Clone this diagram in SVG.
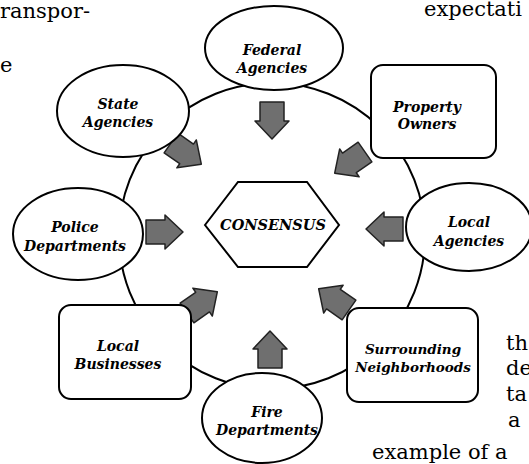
<svg xmlns="http://www.w3.org/2000/svg" xmlns:xlink="http://www.w3.org/1999/xlink" width="529" height="464" viewBox="0 0 529 464">
<style>
.node{fill:#fff;stroke:#000;stroke-width:2}
.lbl{font-family:"DejaVu Serif","Liberation Serif",serif;font-weight:bold;font-style:italic;font-size:14px;text-anchor:middle;fill:#000}
.body{font-family:"DejaVu Serif","Liberation Serif",serif;font-size:21px;fill:#000}
.arr{fill:#6f6f6f;stroke:#222;stroke-width:1.5;stroke-linejoin:round}
.ring{fill:none;stroke:#000;stroke-width:2}
</style>
<defs>
<path id="arrow" d="M0,-12 H19 V-17 L37,0 L19,17 V12 H0 Z"/>
</defs>
<rect width="529" height="464" fill="#fff"/>
<g id="page-text">
<text class="body" x="0" y="18">ranspor-</text>
<text class="body" x="0" y="72">e</text>
<text class="body" x="424" y="16">expectati</text>
<text class="body" x="506" y="350">th</text>
<text class="body" x="506" y="375">de</text>
<text class="body" x="506" y="401">ta</text>
<text class="body" x="508" y="427">a</text>
<text class="body" x="372" y="459">example of a</text>
</g>
<g id="connectors">
<circle class="ring" cx="272" cy="236" r="153"/>
<use xlink:href="#arrow" class="arr" transform="translate(272,102) rotate(90)"/>
<use xlink:href="#arrow" class="arr" transform="translate(270,368) rotate(-90)"/>
<use xlink:href="#arrow" class="arr" transform="translate(146,232)"/>
<use xlink:href="#arrow" class="arr" transform="translate(403,229) rotate(180)"/>
<use xlink:href="#arrow" class="arr" transform="translate(171,143) rotate(35)"/>
<use xlink:href="#arrow" class="arr" transform="translate(365,152) rotate(145)"/>
<use xlink:href="#arrow" class="arr" transform="translate(187,313) rotate(-35)"/>
<use xlink:href="#arrow" class="arr" transform="translate(349,310) rotate(-145)"/>
</g>
<g id="consensus">
<polygon class="node" points="205,225 238,182 307,182 339,225 307,267 238,267"/>
<text class="lbl" x="273" y="230" style="font-size:14.5px">CONSENSUS</text>
</g>
<g id="federal-agencies">
<ellipse class="node" cx="274" cy="48" rx="69" ry="42"/>
<text class="lbl" x="272" y="55">Federal</text>
<text class="lbl" x="272" y="73">Agencies</text>
</g>
<g id="property-owners">
<rect class="node" x="371" y="65" width="125" height="93" rx="12"/>
<text class="lbl" x="427" y="112">Property</text>
<text class="lbl" x="427" y="129">Owners</text>
</g>
<g id="state-agencies">
<ellipse class="node" cx="123" cy="111" rx="66" ry="46"/>
<text class="lbl" x="118" y="109">State</text>
<text class="lbl" x="118" y="127">Agencies</text>
</g>
<g id="police-departments">
<ellipse class="node" cx="78" cy="234" rx="65" ry="46"/>
<text class="lbl" x="75" y="232">Police</text>
<text class="lbl" x="75" y="251">Departments</text>
</g>
<g id="local-agencies">
<ellipse class="node" cx="469" cy="227" rx="63" ry="44"/>
<text class="lbl" x="469" y="227">Local</text>
<text class="lbl" x="469" y="246">Agencies</text>
</g>
<g id="local-businesses">
<rect class="node" x="59" y="305" width="132" height="94" rx="12"/>
<text class="lbl" x="118" y="351">Local</text>
<text class="lbl" x="118" y="369">Businesses</text>
</g>
<g id="surrounding-neighborhoods">
<rect class="node" x="347" y="308" width="131" height="94" rx="12"/>
<text class="lbl" x="413" y="354" style="font-size:13.5px">Surrounding</text>
<text class="lbl" x="413" y="372" style="font-size:13.5px">Neighborhoods</text>
</g>
<g id="fire-departments">
<ellipse class="node" cx="262" cy="418" rx="60" ry="45"/>
<text class="lbl" x="267" y="417">Fire</text>
<text class="lbl" x="267" y="435">Departments</text>
</g>
</svg>
